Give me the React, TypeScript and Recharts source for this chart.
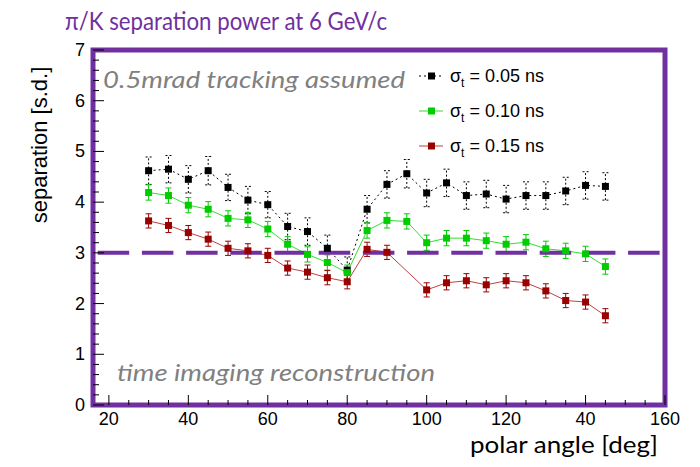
import {
  ComposedChart,
  Line,
  XAxis,
  YAxis,
  ErrorBar,
  ReferenceLine,
  ReferenceArea,
} from "recharts";

// polar angle [deg]
const ANGLES = [
  30, 35, 40, 45, 50, 55, 60, 65, 70, 75, 80, 85, 90, 95, 100, 105, 110, 115,
  120, 125, 130, 135, 140, 145,
];

// separation [s.d.] for each timing resolution
const SEP_005 = [
  4.62, 4.65, 4.45, 4.62, 4.29, 4.04, 3.95, 3.52, 3.42, 3.09, 2.66, 3.86, 4.35,
  4.56, 4.18, 4.38, 4.13, 4.16, 4.06, 4.13, 4.13, 4.22, 4.33, 4.31,
];
const SEP_010 = [
  4.19, 4.13, 3.94, 3.86, 3.68, 3.65, 3.47, 3.17, 2.97, 2.81, 2.61, 3.44, 3.64,
  3.62, 3.2, 3.29, 3.29, 3.24, 3.17, 3.21, 3.08, 3.04, 2.98, 2.73,
];
const SEP_015 = [
  3.63, 3.54, 3.4, 3.27, 3.09, 3.04, 2.95, 2.7, 2.62, 2.51, 2.43, 3.07, 3.01,
  null, 2.27, 2.41, 2.45, 2.37, 2.45, 2.41, 2.25, 2.06, 2.03, 1.76,
];

const ERR_005 = [
  0.27, 0.27, 0.27, 0.28, 0.26, 0.27, 0.26, 0.26, 0.27, 0.26, 0.26, 0.27, 0.27,
  0.28, 0.27, 0.27, 0.27, 0.27, 0.27, 0.27, 0.27, 0.27, 0.27, 0.27,
];
const ERR_010 = [
  0.15, 0.15, 0.15, 0.15, 0.15, 0.15, 0.15, 0.15, 0.15, 0.15, 0.15, 0.15, 0.15,
  0.15, 0.15, 0.15, 0.15, 0.15, 0.15, 0.15, 0.15, 0.15, 0.15, 0.15,
];
const ERR_015 = [
  0.14, 0.14, 0.14, 0.14, 0.14, 0.14, 0.14, 0.14, 0.14, 0.14, 0.14, 0.14, 0.14,
  null, 0.14, 0.14, 0.14, 0.14, 0.14, 0.14, 0.14, 0.14, 0.14, 0.14,
];

const SERIES_NAMES = ["0.05 ns", "0.10 ns", "0.15 ns"];

const X_MAJOR = [20, 40, 60, 80, 100, 120, 140, 160];
// the "1" of 140 is hidden on the original slide
const X_MAJOR_LABELS = ["20", "40", "60", "80", "100", "120", "40", "160"];
const Y_MAJOR = [0, 1, 2, 3, 4, 5, 6, 7];
const Y_MAJOR_LABELS = ["0", "1", "2", "3", "4", "5", "6", "7"];

const X_TICKS: number[] = [];
for (let v = 20; v <= 160; v += 5) X_TICKS.push(v);
const Y_TICKS: number[] = [];
for (let i = 0; i <= 35; i++) Y_TICKS.push(Math.round(i * 20) / 100);

const data = ANGLES.map((a, i) => ({
  angle: a,
  s1: SEP_005[i],
  e1: ERR_005[i],
  s2: SEP_010[i],
  e2: ERR_010[i],
  s3: SEP_015[i],
  e3: ERR_015[i],
}));

const PURPLE = "#7030A0";
const GREY = "#808080";
const TICK_FONT = "'Liberation Sans', Arial, sans-serif";
const SLIDE_FONT = "Lato, 'Open Sans', sans-serif";

const STYLES = [
  { key: "s1", err: "e1", line: "#000000", mark: "#000000", dash: "2 3", errDash: "2 2" },
  { key: "s2", err: "e2", line: "#33dd33", mark: "#00cc00", dash: undefined, errDash: undefined },
  { key: "s3", err: "e3", line: "#c04040", mark: "#990000", dash: undefined, errDash: undefined },
];

function XTick(props: any) {
  const { x, y, payload } = props;
  const i = X_MAJOR.indexOf(payload.value);
  const major = i >= 0;
  return (
    <g>
      <line x1={x} x2={x} y1={y} y2={y - (major ? 10 : 5)} stroke="#000" strokeWidth={1} />
      {major && (
        <text x={x} y={y + 20} textAnchor="middle" fontSize={18} fontFamily={TICK_FONT} fill="#000">
          {X_MAJOR_LABELS[i]}
        </text>
      )}
    </g>
  );
}

function YTick(props: any) {
  const { x, y, payload } = props;
  const v = payload.value;
  const i = Y_MAJOR.findIndex((m) => Math.abs(m - v) < 1e-6);
  const major = i >= 0;
  return (
    <g>
      <line x1={x} x2={x + (major ? 11 : 6)} y1={y} y2={y} stroke="#000" strokeWidth={1} />
      {major && (
        <text x={x - 8} y={y + 6} textAnchor="end" fontSize={18} fontFamily={TICK_FONT} fill="#000">
          {Y_MAJOR_LABELS[i]}
        </text>
      )}
    </g>
  );
}

function square(color: string) {
  return (p: any) => {
    if (p.cy == null || p.value == null || isNaN(p.cy)) return <g key={`n${p.index}`} />;
    return (
      <rect key={`d${p.index}`} x={p.cx - 3.5} y={p.cy - 3.5} width={7} height={7} fill={color} />
    );
  };
}

function LegendOverlay() {
  return (
    <g>
      {STYLES.map((s, i) => {
        const y = 76 + i * 35;
        return (
          <g key={s.key}>
            <line x1={419} x2={443} y1={y} y2={y} stroke={s.line} strokeWidth={1} strokeDasharray={s.dash} />
            <rect x={428} y={y - 3.5} width={7} height={7} fill={s.mark} />
            <text x={450} y={y + 6} fontSize={18} fontFamily={TICK_FONT} fill="#000">
              σ
              <tspan fontSize={12} dy={5}>t</tspan>
              <tspan dy={-5}>{` = ${SERIES_NAMES[i]}`}</tspan>
            </text>
          </g>
        );
      })}
    </g>
  );
}

export default function App() {
  return (
    <div style={{ position: "absolute", left: 0, top: 0, width: 700, height: 467, background: "#fff" }}>
      <ComposedChart
        width={700}
        height={467}
        data={data}
        margin={{ top: 50, right: 35, bottom: 32, left: 33 }}
      >
        <XAxis
          dataKey="angle"
          type="number"
          domain={[16, 160]}
          ticks={X_TICKS}
          interval={0}
          allowDataOverflow
          height={30}
          axisLine={false}
          tickLine={false}
          tickSize={0}
          tickMargin={0}
          tick={<XTick />}
        />
        <YAxis
          type="number"
          domain={[0, 7]}
          ticks={Y_TICKS}
          interval={0}
          allowDataOverflow
          width={60}
          axisLine={false}
          tickLine={false}
          tickSize={0}
          tickMargin={0}
          tick={<YTick />}
        />
        {STYLES.map((s) => (
          <Line
            key={s.key}
            type="linear"
            dataKey={s.key}
            stroke={s.line}
            strokeWidth={1}
            strokeDasharray={s.dash}
            dot={square(s.mark)}
            activeDot={false}
            connectNulls
            isAnimationActive={false}
          >
            <ErrorBar
              dataKey={s.err}
              direction="y"
              width={3}
              stroke={s.mark}
              strokeWidth={1}
              strokeDasharray={s.errDash}
            />
          </Line>
        ))}
        <ReferenceLine
          y={3}
          stroke={PURPLE}
          strokeWidth={4}
          strokeDasharray="31.5 12.7"
          strokeDashoffset={-4.7}
        />
        <ReferenceArea
          x1={16}
          x2={160}
          y1={0}
          y2={7}
          fill="none"
          fillOpacity={0}
          stroke={PURPLE}
          strokeWidth={5}
          strokeOpacity={1}
          ifOverflow="visible"
        />
      </ComposedChart>
      <svg
        width={700}
        height={467}
        style={{ position: "absolute", left: 0, top: 0, pointerEvents: "none" }}
      >
        <text x={65} y={30} fontSize={25} fontFamily={SLIDE_FONT} fill={PURPLE} textLength={322} lengthAdjust="spacingAndGlyphs">
          π/K separation power at 6 GeV/c
        </text>
        <text x={103} y={88} fontSize={24} fontStyle="italic" fontFamily={SLIDE_FONT} fill={GREY} textLength={302} lengthAdjust="spacingAndGlyphs">
          0.5mrad tracking assumed
        </text>
        <text x={117} y={381} fontSize={24} fontStyle="italic" fontFamily={SLIDE_FONT} fill={GREY} textLength={318} lengthAdjust="spacingAndGlyphs">
          time imaging reconstruction
        </text>
        <text x={470} y={453} fontSize={23} fontFamily={SLIDE_FONT} fill="#000" textLength={188} lengthAdjust="spacingAndGlyphs">
          polar angle [deg]
        </text>
        <text
          x={47}
          y={145}
          transform="rotate(-90 47 145)"
          textAnchor="middle"
          fontSize={22}
          fontFamily={TICK_FONT}
          fill="#000"
        >
          separation [s.d.]
        </text>
        <LegendOverlay />
      </svg>
    </div>
  );
}
